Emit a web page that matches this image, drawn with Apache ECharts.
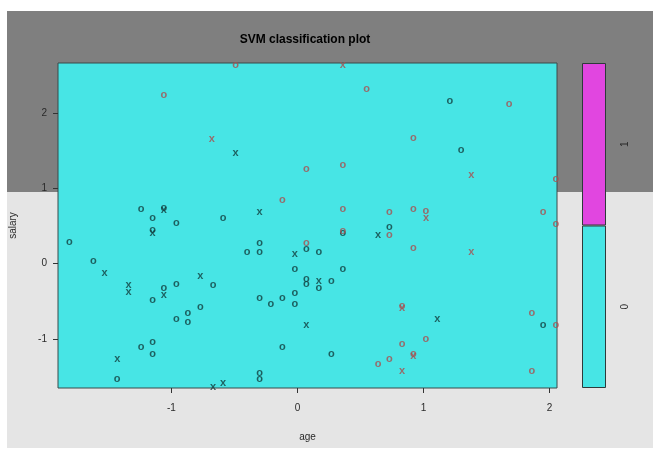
<!DOCTYPE html>
<html>
<head>
<meta charset="UTF-8">
<title>SVM classification plot</title>
<script src="https://cdn.jsdelivr.net/npm/echarts@6/dist/echarts.min.js"></script>
<style>
  html, body { margin: 0; padding: 0; background: #fff; }
  #chart { width: 653px; height: 449px; }
</style>
</head>
<body>
<div id="chart"></div>
<script>
// points [age, salary]; "o" = ordinary point, "x" = support vector
const class0O = [
  [-1.24, 0.73], [-1.06, 0.74], [-1.15, 0.61], [-0.96, 0.54], [-0.59, 0.61],
  [-1.15, 0.44], [-1.81, 0.28], [-0.30, 0.27], [-0.40, 0.16], [-0.30, 0.16],
  [0.07, 0.20], [0.73, 0.48], [0.36, 0.41], [0.17, 0.16], [1.21, 2.16],
  [1.30, 1.51], [-1.62, 0.03], [-0.02, -0.07], [0.36, -0.07], [0.07, -0.20],
  [0.07, -0.27], [0.27, -0.23], [0.17, -0.33], [-0.96, -0.27], [-0.67, -0.29],
  [-1.06, -0.32], [-1.15, -0.48], [-0.30, -0.45], [-0.21, -0.54], [-0.12, -0.45],
  [-0.02, -0.39], [-0.02, -0.54], [-0.77, -0.58], [-0.87, -0.65], [-0.96, -0.74],
  [-0.87, -0.78], [-1.15, -1.04], [-1.24, -1.10], [-1.15, -1.20], [-0.12, -1.10],
  [-1.43, -1.53], [-0.30, -1.45], [-0.30, -1.53], [0.27, -1.20], [1.95, -0.81],
  [-1.92, -0.73]
];
const class0X = [
  [-1.06, 0.71], [-0.30, 0.68], [-0.49, 1.47], [-1.15, 0.41], [-0.02, 0.13],
  [-1.53, -0.12], [-0.77, -0.16], [-1.34, -0.29], [-1.34, -0.38], [-1.06, -0.42],
  [0.17, -0.23], [0.64, 0.38], [0.07, -0.81], [1.11, -0.74], [-1.43, -1.26],
  [-0.59, -1.58], [-0.67, -1.64]
];
const class1O = [
  [-0.49, 2.64], [-1.06, 2.24], [0.07, 1.26], [-0.12, 0.84], [0.55, 2.32],
  [1.68, 2.12], [0.92, 1.67], [0.36, 1.31], [2.05, 1.12], [0.36, 0.73],
  [0.73, 0.68], [0.92, 0.73], [1.02, 0.70], [1.95, 0.68], [2.05, 0.52],
  [0.73, 0.38], [0.36, 0.43], [0.07, 0.27], [0.92, 0.21], [0.83, -0.56],
  [1.86, -0.65], [2.05, -0.81], [1.02, -1.00], [0.83, -1.06], [0.92, -1.20],
  [0.73, -1.26], [0.64, -1.33], [1.86, -1.42]
];
const class1X = [
  [-0.68, 1.65], [0.36, 2.64], [1.38, 1.18], [1.02, 0.61], [1.38, 0.16],
  [0.83, -0.59], [0.92, -1.23], [0.83, -1.42]
];
const xTicks = [-1, 0, 1, 2];
const yTicks = [-1, 0, 1, 2];
const levels = ['0', '1'];
const levelColors = ['#47e5e5', '#e146e0'];

const FONT = 'Liberation Sans, Arial, sans-serif';
const chart = echarts.init(document.getElementById('chart'));

function pts(data, ch, color) {
  return {
    type: 'scatter', xAxisIndex: 0, yAxisIndex: 0, data: data,
    symbol: 'circle', symbolSize: 1, silent: true,
    itemStyle: { color: 'rgba(0,0,0,0)' },
    label: {
      show: true, position: 'inside', formatter: ch,
      fontFamily: FONT, fontSize: 11, fontWeight: 'bold', color: color,
      textBorderWidth: 0, verticalAlign: 'middle', align: 'center'
    }
  };
}

const axisText = { fontFamily: FONT, fontSize: 10, color: '#2a2a2a' };

chart.setOption({
  animation: false,
  backgroundColor: '#ffffff',
  graphic: [
    { type: 'rect', z: -10, shape: { x: 7, y: 11, width: 646, height: 437 }, style: { fill: '#e5e5e5' } },
    { type: 'rect', z: -10, shape: { x: 7, y: 11, width: 646, height: 181 }, style: { fill: '#7f7f7f' } }
  ],
  title: {
    text: 'SVM classification plot', left: 300, top: 29, textAlign: 'center',
    textStyle: { fontFamily: FONT, fontSize: 12, fontWeight: 'bold', color: '#000' }
  },
  grid: [
    { left: 57, top: 63, width: 500, height: 325, show: true,
      backgroundColor: levelColors[0], borderColor: '#3a4a4a', borderWidth: 1 },
    { left: 582, top: 63, width: 24, height: 325, show: false }
  ],
  xAxis: [
    { gridIndex: 0, type: 'value', min: -1.9, max: 2.06,
      name: 'age', nameLocation: 'middle', nameGap: 44,
      nameTextStyle: axisText,
      axisLine: { show: false, onZero: false }, splitLine: { show: false },
      axisTick: { show: true, length: 5, customValues: xTicks, lineStyle: { color: '#333' } },
      axisLabel: { customValues: xTicks, margin: 15, ...axisText } },
    { gridIndex: 1, type: 'value', min: 0, max: 1, show: false }
  ],
  yAxis: [
    { gridIndex: 0, type: 'value', min: -1.65, max: 2.66,
      name: 'salary', nameLocation: 'middle', nameGap: 40, nameRotate: 90,
      nameTextStyle: axisText,
      axisLine: { show: false, onZero: false }, splitLine: { show: false },
      axisTick: { show: true, length: 5, customValues: yTicks, lineStyle: { color: '#333' } },
      axisLabel: { customValues: yTicks, margin: 11, ...axisText } },
    { gridIndex: 1, type: 'category', data: levels, position: 'right',
      axisLine: { show: false }, splitLine: { show: false },
      axisTick: { show: true, length: 5, alignWithLabel: true, lineStyle: { color: '#333' } },
      axisLabel: { rotate: 90, margin: 14, ...axisText } }
  ],
  series: [
    {
      type: 'bar', xAxisIndex: 1, yAxisIndex: 1, barWidth: '100%', barCategoryGap: '0%', silent: true,
      data: levels.map((l, i) => ({
        value: 1,
        itemStyle: { color: levelColors[i], borderColor: '#2e3a3a', borderWidth: 1 }
      }))
    },
    pts(class0O, 'o', '#123e3e'),
    pts(class0X, 'x', '#123e3e'),
    pts(class1O, 'o', '#a85050'),
    pts(class1X, 'x', '#a85050')
  ]
});
</script>
</body>
</html>
